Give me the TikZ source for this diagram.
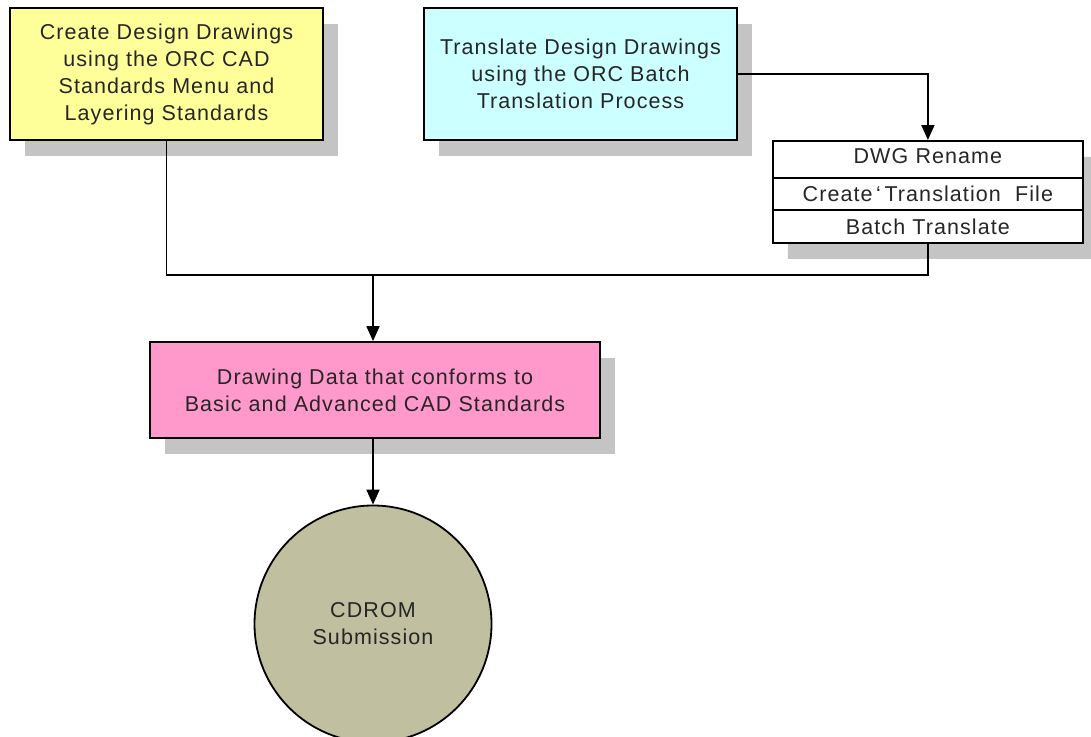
\documentclass[tikz,border=0pt]{standalone}
\usepackage{fontspec}
\setmainfont{Liberation Sans}
\usepackage{tikz}
\usetikzlibrary{arrows.meta,positioning,shapes,shadows}

\definecolor{stepyellow}{HTML}{FFFF99}
\definecolor{stepcyan}{HTML}{CCFFFF}
\definecolor{steppink}{HTML}{FF99CC}
\definecolor{cdolive}{HTML}{C0C0A0}
\definecolor{shadowgray}{HTML}{C4C4C4}

\begin{document}
\begin{tikzpicture}[x=1pt,y=-1pt,>={Triangle[length=15pt,width=13pt]},line width=1.8pt,
  every node/.style={font=\fontsize{21.5}{27}\selectfont\addfontfeatures{LetterSpace=5},text=black!85},
  stepbox/.style={draw,rectangle,align=center,inner sep=0pt,
    general shadow={fill=shadowgray,shadow xshift=15pt,shadow yshift=-16pt}}]
  \useasboundingbox (0,0) rectangle (1091,736);
  \node[stepbox,fill=stepyellow,minimum width=313pt,minimum height=132pt] (create) at (166.5,74)
    {Create Design Drawings\\using the ORC CAD\\Standards Menu and\\Layering Standards};
  \node[stepbox,fill=stepcyan,minimum width=313pt,minimum height=132pt] (translate) at (580.5,74)
    {Translate Design Drawings\\using the ORC Batch\\Translation Process};
  \node[stepbox,fill=white,rectangle split,rectangle split parts=3,text width=300pt,
    text height=14pt,text depth=6pt,inner ysep=7.5pt,inner xsep=5pt,anchor=north west] (batch) at (772,140)
    {DWG Rename\nodepart{two}Create\,`\,Translation\ \ File\nodepart{three}Batch Translate};
  \node[stepbox,fill=steppink,minimum width=450pt,minimum height=96pt] (data) at (375,390)
    {Drawing Data that conforms to\\Basic and Advanced CAD Standards};
  \node[draw,circle,fill=cdolive,minimum size=237pt,inner sep=0pt,align=center] (cd) at (373,624)
    {CDROM\\Submission};
  \coordinate (join) at (373,275);
\path (translate.east) edge[->,to path={-| (\tikztotarget)}] (batch.north);
\draw (batch.south) |- (join) (create.south) |- (join);
\draw[->] (join) -- (join |- data.north);
\draw[->] (join |- data.south) -- (cd.north);
\end{tikzpicture}
\end{document}
